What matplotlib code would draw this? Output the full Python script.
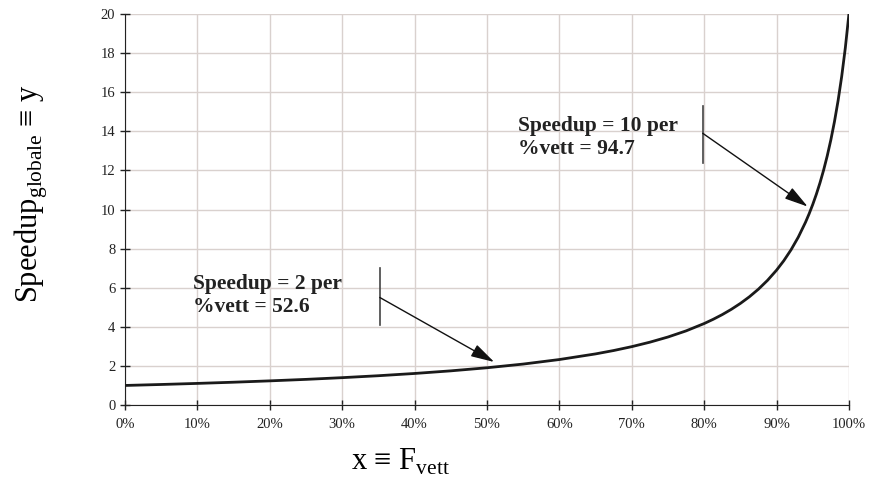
import matplotlib
matplotlib.use("Agg")
import matplotlib.pyplot as plt
from matplotlib.ticker import FuncFormatter

plt.rcParams["font.family"] = ["Liberation Serif", "DejaVu Serif"]
plt.rcParams["mathtext.fontset"] = "custom"
plt.rcParams["mathtext.rm"] = "Liberation Serif"

# fraction of vectorised code vs. global speedup
f_vett = [0.00, 0.05, 0.10, 0.15, 0.20, 0.25, 0.30, 0.35, 0.40, 0.45, 0.50,
          0.55, 0.60, 0.65, 0.675, 0.70, 0.725, 0.75, 0.775, 0.80, 0.8125,
          0.825, 0.8375, 0.85, 0.8625, 0.875, 0.8875, 0.90, 0.91, 0.92, 0.93,
          0.94, 0.945, 0.95, 0.955, 0.96, 0.965, 0.97, 0.975, 0.98, 0.985,
          0.99, 0.995, 1.00]
speedup = [1.00, 1.05, 1.105, 1.166, 1.235, 1.311, 1.399, 1.498, 1.613, 1.747, 1.905,
           2.094, 2.326, 2.614, 2.787, 2.985, 3.213, 3.478, 3.791, 4.167, 4.384,
           4.624, 4.893, 5.195, 5.536, 5.926, 6.375, 6.897, 7.380, 7.937, 8.584,
           9.346, 9.780, 10.256, 10.782, 11.364, 12.012, 12.739, 13.559, 14.493, 15.564,
           16.807, 18.265, 20.00]

x_ticks = [0.0, 0.1, 0.2, 0.3, 0.4, 0.5, 0.6, 0.7, 0.8, 0.9, 1.0]
y_ticks = [0, 2, 4, 6, 8, 10, 12, 14, 16, 18, 20]

notes = [
    ("Speedup = 2 per\n%vett = 52.6", 0.094, 5.62, 0.352, (4.1, 7.0), 5.5, (0.51, 2.2)),
    ("Speedup = 10 per\n%vett = 94.7", 0.543, 13.7, 0.798, (12.4, 15.3), 13.9, (0.943, 10.15)),
]

fig = plt.figure(figsize=(8.77, 4.78), dpi=100)
ax = fig.add_axes([0.1425, 0.1527, 0.8255, 0.818])

ax.plot(f_vett, speedup, color="#1a1a1a", linewidth=2.0, zorder=3)

ax.set_xlim(0, 1)
ax.set_ylim(0, 20)
ax.set_xticks(x_ticks)
ax.set_yticks(y_ticks)
ax.xaxis.set_major_formatter(FuncFormatter(lambda v, _: f"{v * 100:.0f}%"))
ax.tick_params(direction="inout", length=7, width=1, labelsize=10.5, colors="#222222")
ax.tick_params(axis="x", pad=6)
ax.grid(True, color="#d9d1ce", linewidth=1)
ax.set_axisbelow(True)
for side in ("top", "right"):
    ax.spines[side].set_visible(False)
for side in ("left", "bottom"):
    ax.spines[side].set_color("#222222")

ax.set_ylabel(r"Speedup$_{\mathrm{globale}}$ ≡ y", fontsize=22)
ax.yaxis.set_label_coords(-0.104, 0.54)
ax.set_xlabel(r"x ≡ F$_{\mathrm{vett}}$", fontsize=22)
ax.xaxis.set_label_coords(0.38, -0.108)

for text, tx, ty, lx, (y0, y1), ay, tip in notes:
    ax.text(tx, ty, text, fontsize=15.5, fontweight="bold", color="#222222",
            va="center", ha="left", linespacing=1.2)
    ax.plot([lx, lx], [y0, y1], color="#444444", linewidth=1.2)
    ax.annotate("", xy=tip, xytext=(lx, ay),
                arrowprops=dict(arrowstyle="-|>,head_length=0.9,head_width=0.25",
                                color="#111111", lw=1, mutation_scale=16,
                                shrinkA=0, shrinkB=0))

fig.savefig("out.png", dpi=100)
